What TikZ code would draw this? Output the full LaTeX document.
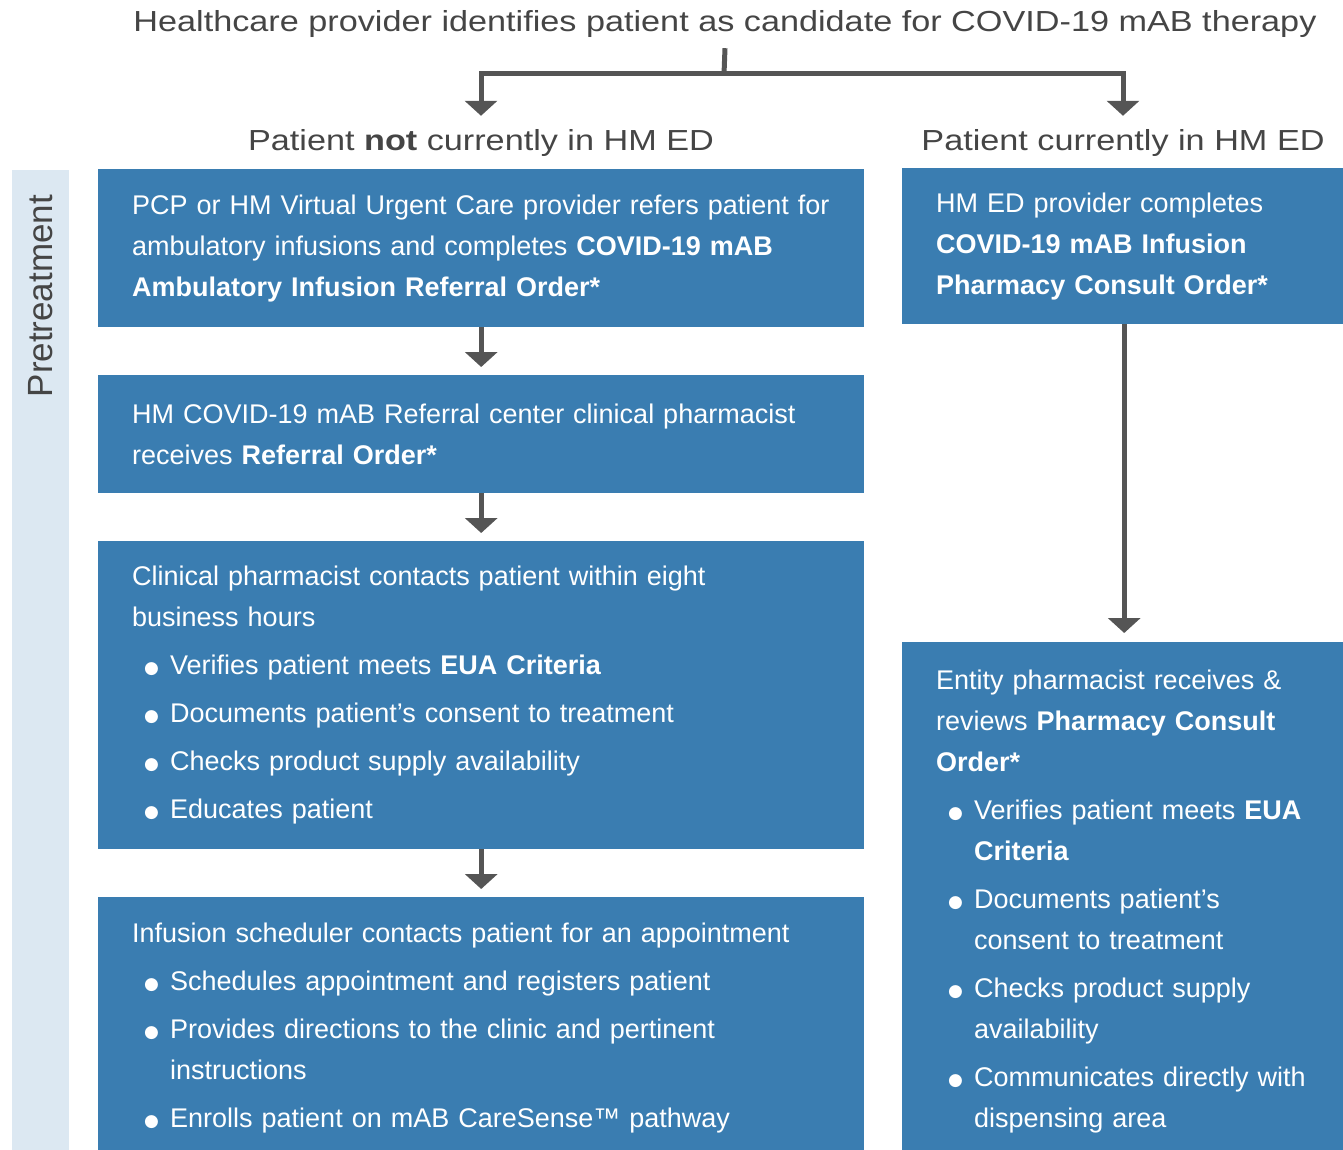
\documentclass[tikz,border=0pt]{standalone}
\usepackage{fontspec}
\setmainfont{Liberation Sans}
\newfontfamily\headfont[FakeStretch=1.18]{Liberation Sans}
\newfontfamily\symfont{DejaVu Sans}
\usetikzlibrary{arrows.meta}

\definecolor{boxblue}{HTML}{3A7DB1}
\definecolor{barblue}{HTML}{DCE8F2}
\definecolor{linegray}{HTML}{555555}
\definecolor{textgray}{HTML}{454545}

\newcommand{\dotmark}{\raisebox{1pt}{\symfont\fontsize{17}{17}\selectfont\char"25CF}}
\newcommand{\bitem}[1]{\par\vspace{7pt}\hangindent=38pt\hangafter=1%
  \noindent\hspace*{12pt}\makebox[26pt][l]{\dotmark}#1\par}

\tikzset{
  headtext/.style={font=\headfont\fontsize{29}{32}\selectfont, text=textgray, anchor=base, inner sep=0pt},
  stepbox/.style={fill=boxblue, text=white, align=left, anchor=north west,
    inner xsep=34pt, inner ysep=0pt, font=\fontsize{27}{41}\selectfont},
  leftbox/.style={stepbox, text width=698pt},
  rightbox/.style={stepbox, text width=376pt},
  flowline/.style={draw=linegray, line width=5pt},
  flowarrow/.style={flowline, -{Triangle[width=32pt,length=15pt]}}
}

\begin{document}
\begin{tikzpicture}[x=1pt,y=-1pt]

      \useasboundingbox (0,0) rectangle (1343,1150);
      \clip (0,0) rectangle (1343,1150);

      % headings
      \node[headtext] (title) at (725,32) {Healthcare provider identifies patient as candidate for COVID-19 mAB therapy};
      \node[headtext] (notED) at (481,151) {Patient \textbf{not} currently in HM ED};
      \node[headtext] (inED)  at (1123,151) {Patient currently in HM ED};
      \coordinate (split) at (724,74);

      % phase bar
      \node[rotate=90, fill=barblue, minimum height=57pt, text width=950pt, inner xsep=25pt,
            align=right, font=\fontsize{35}{35}\selectfont, text=textgray] (phase) at (40.5,670) {Pretreatment};

      % steps, not in ED
      \node[leftbox, minimum height=158pt] (b1) at (98,169)
        {PCP or HM Virtual Urgent Care provider refers patient for\\
         ambulatory infusions and completes \textbf{COVID-19 mAB}\\
         \textbf{Ambulatory Infusion Referral Order*}};
      \node[leftbox, minimum height=118pt] (b2) at (98,375)
        {HM COVID-19 mAB Referral center clinical pharmacist\\
         receives \textbf{Referral Order*}};
      \node[leftbox, minimum height=308pt] (b3) at (98,541)
        {Clinical pharmacist contacts patient within eight\\
         business hours
         \bitem{Verifies patient meets \textbf{EUA Criteria}}
         \bitem{Documents patient’s consent to treatment}
         \bitem{Checks product supply availability}
         \bitem{Educates patient}};
      \node[leftbox, minimum height=262pt] (b4) at (98,897)
        {Infusion scheduler contacts patient for an appointment
         \bitem{Schedules appointment and registers patient}
         \bitem{Provides directions to the clinic and pertinent\newline instructions}
         \bitem{Enrolls patient on mAB CareSense\texttrademark{} pathway}};

      % steps, in ED
      \node[rightbox, minimum height=156pt] (r1) at (902,168)
        {HM ED provider completes\\
         \textbf{COVID-19 mAB Infusion}\\
         \textbf{Pharmacy Consult Order*}};
      \node[rightbox, minimum height=518pt] (r2) at (902,642)
        {Entity pharmacist receives \&\\
         reviews \textbf{Pharmacy Consult}\\
         \textbf{Order*}
         \bitem{Verifies patient meets \textbf{EUA}\newline \textbf{Criteria}}
         \bitem{Documents patient’s\newline consent to treatment}
         \bitem{Checks product supply\newline availability}
         \bitem{Communicates directly with\newline dispensing area}};

      % connectors
      \draw[flowline] ([yshift=-10pt]title.south) -- (split);
      \draw[flowarrow, shorten >=14pt] (split) -| (notED.north);
      \draw[flowarrow, shorten >=14pt] (split) -| (inED.north);

      \begin{scope}[every edge/.style={draw, flowarrow}]
        \path (b1) edge[shorten >=8pt] (b2);
        \path (b2) edge[shorten >=8pt] (b3);
        \path (b3) edge[shorten >=8pt] (b4);
        \path (r1) edge[shorten >=9pt] (r2);
      \end{scope}

    \end{tikzpicture}
\end{document}
